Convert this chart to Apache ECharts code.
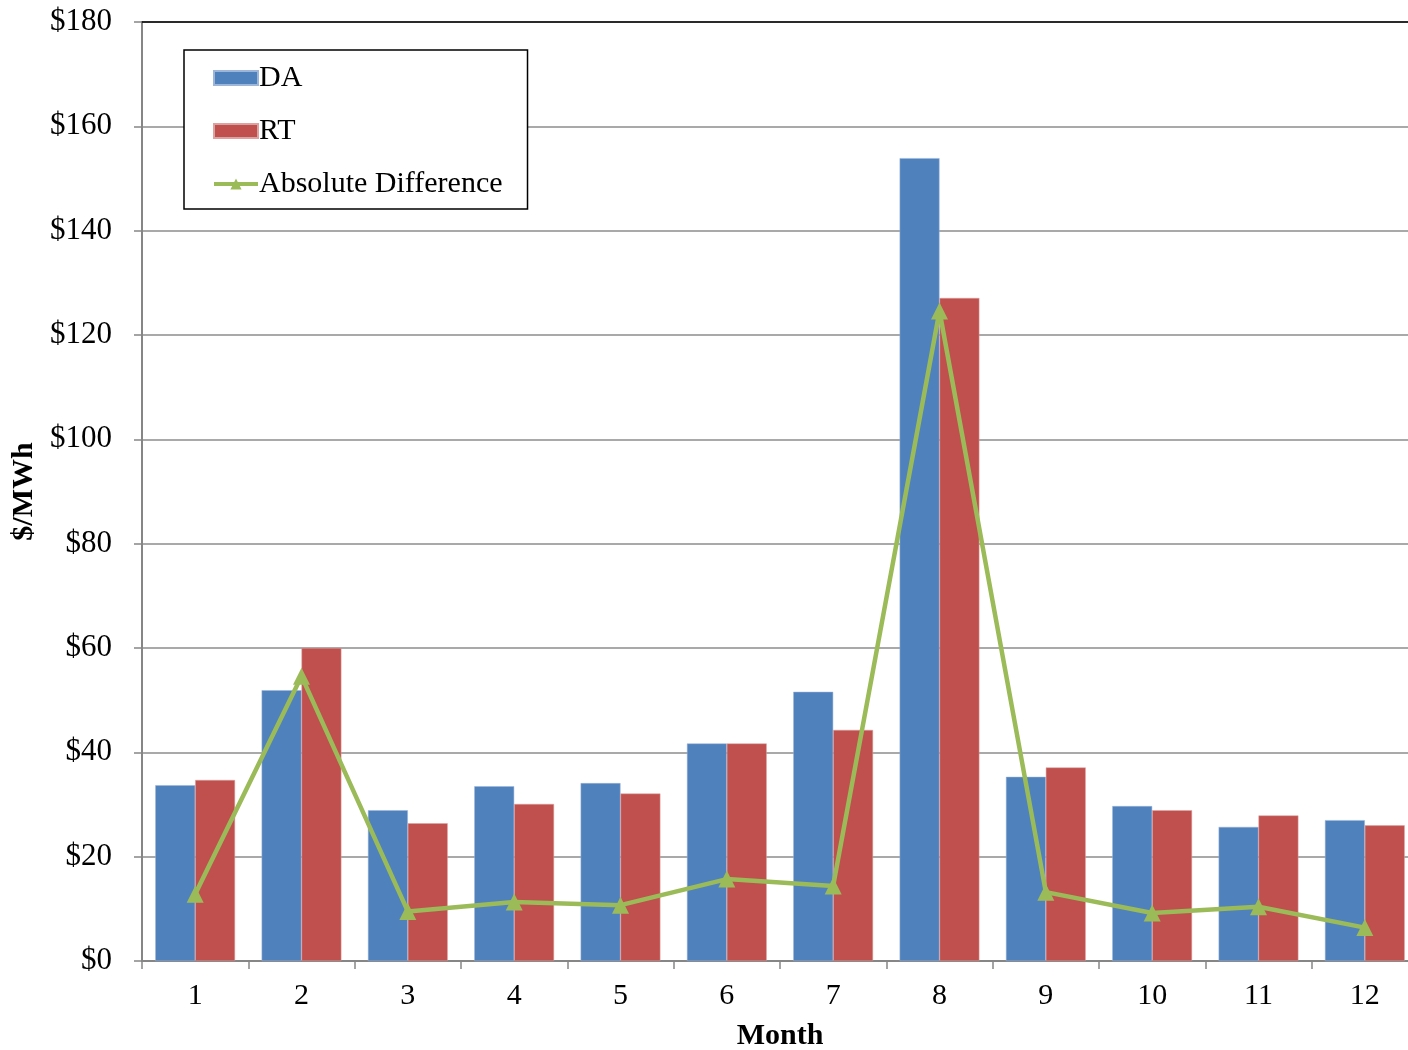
<!DOCTYPE html>
<html>
<head>
<meta charset="utf-8">
<script src="https://cdn.jsdelivr.net/npm/echarts@6/dist/echarts.min.js"></script>
<style>html,body{margin:0;padding:0;background:#fff}#c{width:1408px;height:1050px}</style>
</head>
<body>
<div id="c"></div>
<script>
const months = ['1','2','3','4','5','6','7','8','9','10','11','12'];
const daValues = [33.7, 51.9, 28.9, 33.5, 34.1, 41.7, 51.6, 153.9, 35.3, 29.7, 25.7, 27.0];
const rtValues = [34.7, 60.0, 26.4, 30.1, 32.1, 41.7, 44.3, 127.1, 37.1, 28.9, 27.9, 26.0];
const absDiffValues = [12.8, 54.6, 9.5, 11.3, 10.7, 15.7, 14.4, 124.6, 13.2, 9.2, 10.4, 6.4];
const yTicks = { min: 0, max: 180, interval: 20 };

const font = 'Liberation Serif';
const chart = echarts.init(document.getElementById('c'), null, {renderer: 'canvas'});
chart.setOption({
  animation: false,
  backgroundColor: '#fff',
  grid: { left: 142, right: -10, top: 22, bottom: 89, containLabel: false, outerBoundsMode: 'none' },
  legend: {
    orient: 'vertical',
    left: 184, top: 50,
    padding: [13, 25, 10, 28],
    itemGap: 23,
    itemWidth: 44, itemHeight: 14,
    borderColor: '#000', borderWidth: 1.5,
    backgroundColor: '#fff',
    lineStyle: { width: 4 },
    textStyle: { fontFamily: font, fontSize: 30, color: '#000', padding: [0,0,0,-4] },
    data: [
      { name: 'DA', icon: 'rect' },
      { name: 'RT', icon: 'rect' },
      { name: 'Absolute Difference' }
    ]
  },
  xAxis: [{
    type: 'category',
    data: months,
    name: 'Month',
    nameLocation: 'middle',
    nameGap: 60,
    nameTextStyle: { fontFamily: font, fontSize: 30, fontWeight: 'bold', color: '#000' },
    axisLine: { lineStyle: { color: '#868686', width: 2 } },
    axisTick: { show: true, inside: false, length: 8, alignWithLabel: false, lineStyle: { color: '#868686', width: 1.5 } },
    axisLabel: { fontFamily: font, fontSize: 30, color: '#000', margin: 20 }
  }, {
    type: 'category',
    data: months,
    position: 'top',
    axisLine: { lineStyle: { color: '#000', width: 1.5 } },
    axisTick: { show: false },
    axisLabel: { show: false }
  }],
  yAxis: {
    type: 'value',
    min: yTicks.min, max: yTicks.max, interval: yTicks.interval,
    name: '$/MWh',
    nameLocation: 'middle',
    nameGap: 98,
    nameTextStyle: { fontFamily: font, fontSize: 30, fontWeight: 'bold', color: '#000' },
    axisLine: { show: true, lineStyle: { color: '#868686', width: 2 } },
    axisTick: { show: true, inside: false, length: 8, lineStyle: { color: '#868686', width: 1.5 } },
    axisLabel: { fontFamily: font, fontSize: 31, color: '#000', margin: 30, formatter: v => '$' + v },
    splitLine: { show: true, lineStyle: { color: '#8c8c8c', width: 1.5 } }
  },
  series: [
    {
      name: 'DA', type: 'bar', data: daValues,
      barGap: '0%', barCategoryGap: '25%',
      itemStyle: { color: '#4F81BD', borderColor: '#9DB5D9', borderWidth: 0.5 }
    },
    {
      name: 'RT', type: 'bar', data: rtValues,
      barGap: '0%', barCategoryGap: '25%',
      itemStyle: { color: '#C0504D', borderColor: '#DDA2A0', borderWidth: 0.5 }
    },
    {
      name: 'Absolute Difference', type: 'line', data: absDiffValues,
      symbol: 'triangle', symbolSize: 17,
      lineStyle: { color: '#9BBB59', width: 4.5 },
      itemStyle: { color: '#9BBB59' },
      z: 5
    }
  ]
});
</script>
</body>
</html>
